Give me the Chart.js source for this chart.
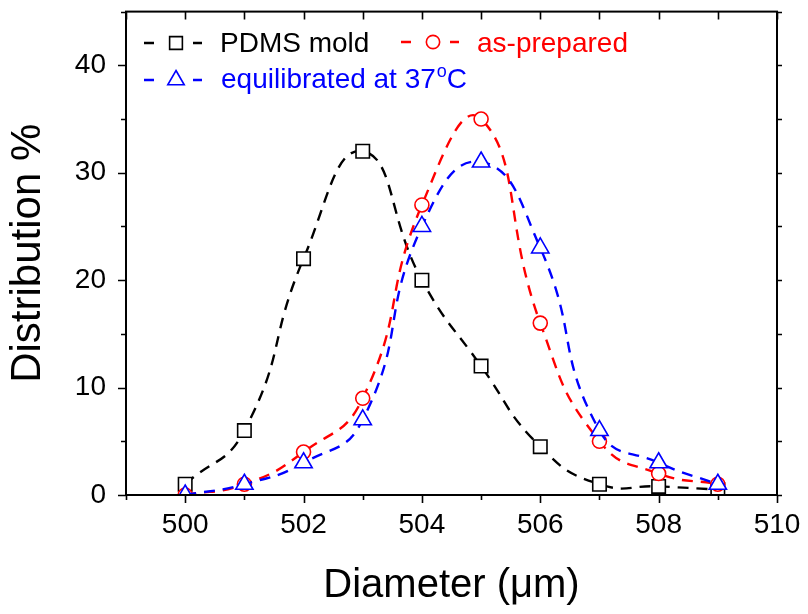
<!DOCTYPE html>
<html>
<head>
<meta charset="utf-8">
<script src="https://cdn.jsdelivr.net/npm/chart.js@4/dist/chart.umd.min.js"></script>
<style>
  html, body { margin: 0; padding: 0; background: #fff; }
  #c { display: block; }
</style>
</head>
<body>
<canvas id="c" width="808" height="614"></canvas>
<script>
// ---- data ----
const diameters = [500, 501, 502, 503, 504, 505, 506, 507, 508, 509];
const pdmsMold = [1, 6, 22, 32, 20, 12, 4.5, 1, 0.8, 0.5];
const asPrepared = [0, 1, 4, 9, 27, 35, 16, 5, 2, 1];
const equilibrated = [0, 1, 3, 7, 25, 31, 23, 6, 3, 1];
const seriesNames = ['PDMS mold', 'as-prepared', 'equilibrated at 37'];
const xTickLabels = [500, 502, 504, 506, 508, 510];
const yTickLabels = [0, 10, 20, 30, 40];

const FONT = "'Liberation Sans', Arial, Helvetica, sans-serif";

function pts(ys) { return diameters.map((x, i) => ({ x: x, y: ys[i] })); }

function ds(label, ys, color, style, radius, order) {
  return {
    label: label,
    data: pts(ys),
    borderColor: color,
    backgroundColor: '#ffffff',
    borderWidth: 2.4,
    borderDash: [11, 8],
    tension: 0.5,
    pointStyle: style,
    pointRadius: radius,
    pointBorderColor: color,
    pointBackgroundColor: '#ffffff',
    pointBorderWidth: 1.6,
    fill: false,
    order: order
  };
}

const frameAndLegend = {
  id: 'frameAndLegend',
  afterDatasetsDraw(chart) {
    const ctx = chart.ctx;
    const a = chart.chartArea;
    const xs = chart.scales.x, ys = chart.scales.y;
    ctx.save();
    ctx.strokeStyle = '#000';
    ctx.lineWidth = 2;
    ctx.setLineDash([]);
    ctx.strokeRect(a.left, a.top, a.right - a.left, a.bottom - a.top);
    ctx.lineWidth = 1.6;
    ctx.beginPath();
    for (let v = 499; v <= 510; v++) {
      const px = Math.round(xs.getPixelForValue(v)) + 0.5;
      const major = v % 2 === 0;
      ctx.moveTo(px, a.bottom); ctx.lineTo(px, a.bottom + (major ? 8 : 5));
      ctx.moveTo(px, a.top); ctx.lineTo(px, a.top + 8);
    }
    for (let v = 0; v <= 45; v += 5) {
      const py = Math.round(ys.getPixelForValue(v)) + 0.5;
      const major = v % 10 === 0;
      ctx.moveTo(a.left, py); ctx.lineTo(a.left - (major ? 8 : 5), py);
      ctx.moveTo(a.right, py); ctx.lineTo(a.right + 5, py);
    }
    ctx.stroke();

    // legend
    const items = [
      { ds: 0, x: 144, y: 43, tx: 220, ty: 52 },
      { ds: 1, x: 401, y: 42, tx: 477, ty: 52 },
      { ds: 2, x: 144, y: 80, tx: 221, ty: 88 }
    ];
    items.forEach(it => {
      const d = chart.data.datasets[it.ds];
      ctx.strokeStyle = d.borderColor;
      ctx.lineWidth = 2.4;
      ctx.beginPath();
      ctx.moveTo(it.x, it.y); ctx.lineTo(it.x + 10, it.y);
      ctx.moveTo(it.x + 49, it.y); ctx.lineTo(it.x + 58, it.y);
      ctx.stroke();
      ctx.fillStyle = '#ffffff';
      ctx.lineWidth = 1.6;
      Chart.helpers.drawPoint(ctx, {
        pointStyle: d.pointStyle,
        radius: d.pointRadius * 0.95,
        borderWidth: 1.6,
        rotation: 0
      }, it.x + 32, it.y);
      ctx.fillStyle = d.borderColor;
      ctx.font = '28px ' + FONT;
      ctx.textAlign = 'left';
      ctx.textBaseline = 'alphabetic';
      ctx.fillText(d.label, it.tx, it.ty);
      if (it.ds === 2) {
        const w = ctx.measureText(d.label).width;
        ctx.font = '18px ' + FONT;
        ctx.fillText('o', it.tx + w + 1, it.ty - 11);
        const w2 = ctx.measureText('o').width;
        ctx.font = '28px ' + FONT;
        ctx.fillText('C', it.tx + w + w2 + 1, it.ty);
      }
    });
    ctx.restore();
  }
};

const chart = new Chart(document.getElementById('c'), {
  type: 'line',
  data: {
    datasets: [
      ds(seriesNames[0], pdmsMold, '#000000', 'rect', 9.5, 2),
      ds(seriesNames[1], asPrepared, '#ff0000', 'circle', 7, 1),
      ds(seriesNames[2], equilibrated, '#0000ff', 'triangle', 10, 0)
    ]
  },
  options: {
    responsive: false,
    devicePixelRatio: 1,
    animation: false,
    layout: { padding: { left: 0, top: 10, right: 31, bottom: 0 } },
    plugins: { legend: { display: false }, tooltip: { enabled: false } },
    scales: {
      x: {
        type: 'linear',
        min: 499, max: 510,
        grid: { display: false },
        border: { display: false },
        ticks: {
          stepSize: 1,
          autoSkip: false,
          maxRotation: 0,
          padding: 5,
          color: '#000',
          font: { family: FONT, size: 28 },
          callback: v => xTickLabels.includes(v) ? String(v) : ''
        },
        title: {
          display: true,
          text: 'Diameter (\u03bcm)',
          color: '#000',
          font: { family: FONT, size: 40, lineHeight: 1.2 },
          padding: { top: 0, bottom: 4 }
        },
        afterFit: s => { s.height = 119; s.paddingLeft = 0; s.paddingRight = 0; }
      },
      y: {
        min: 0, max: 45,
        grid: { display: false },
        border: { display: false },
        ticks: {
          stepSize: 10,
          includeBounds: false,
          padding: 12,
          color: '#000',
          font: { family: FONT, size: 28 },
          callback: v => yTickLabels.includes(v) ? String(v) : ''
        },
        title: {
          display: true,
          text: 'Distribution %',
          color: '#000',
          font: { family: FONT, size: 42, lineHeight: 1.2 },
          padding: { top: 3, bottom: 0 }
        },
        afterFit: s => { s.width = 126; s.paddingTop = 0; s.paddingBottom = 0; }
      }
    }
  },
  plugins: [frameAndLegend]
});
</script>
</body>
</html>
